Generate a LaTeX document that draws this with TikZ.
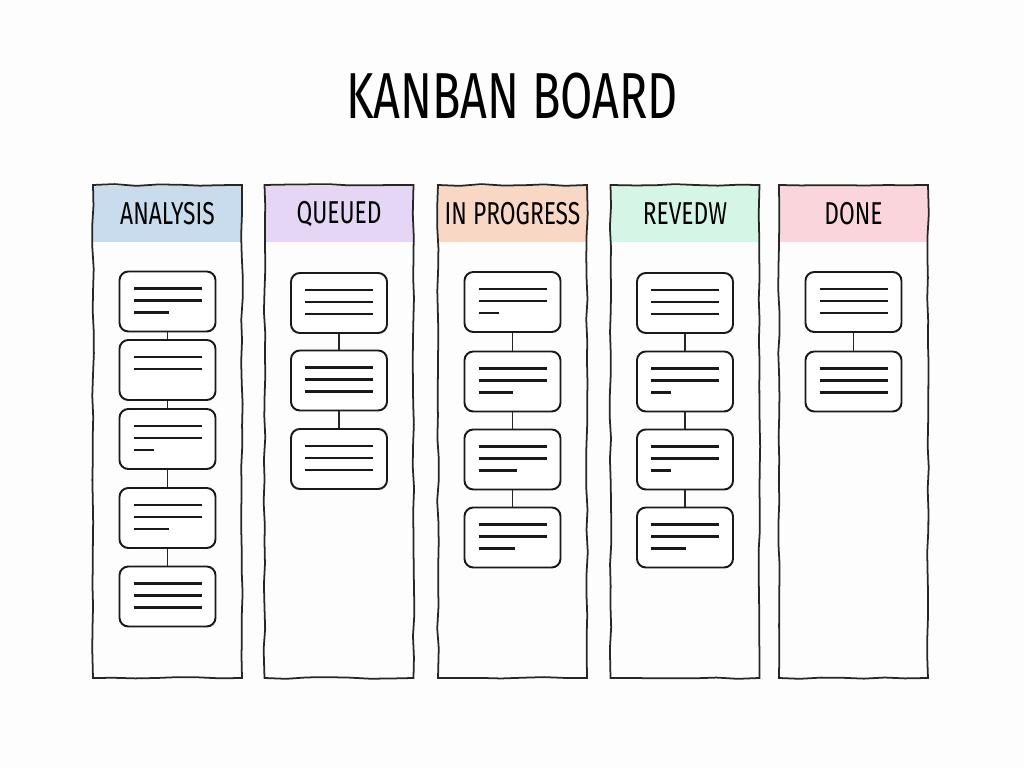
\documentclass[tikz,border=0pt]{standalone}
\usepackage{fontspec}
\setmainfont{Fira Sans}[FakeStretch=0.72]
\usetikzlibrary{decorations.pathmorphing}
\definecolor{boardbg}{HTML}{FDFDFD}
\definecolor{analysisblue}{HTML}{C8DCEE}
\definecolor{queuedlilac}{HTML}{E5D6F6}
\definecolor{progresspeach}{HTML}{F8D8C5}
\definecolor{reviewmint}{HTML}{D5F6E6}
\definecolor{donepink}{HTML}{FAD5DB}
\tikzset{
  sketchy/.style={decorate, decoration={random steps, segment length=6pt, amplitude=0.25pt}},
  lane/.style={draw=black!85, line width=0.5pt, minimum width=1.49cm, minimum height=4.93cm, inner sep=0pt, sketchy},
  lanehead/.style={minimum width=1.49cm, minimum height=0.56cm, inner sep=0pt, anchor=north, font=\fontsize{9}{10}\selectfont},
  card/.style={draw=black!90, line width=0.55pt, rounded corners=2.5pt, minimum width=0.96cm, minimum height=0.6cm, inner sep=0pt, fill=white},
  cardline/.style={line width=0.6pt, black!90},
  link/.style={line width=0.5pt, black!85}
}

\begin{document}
\begin{tikzpicture}
\pgfmathsetseed{7}
\fill[boardbg] (0,0) rectangle (10.24,7.68);
\useasboundingbox (0,0) rectangle (10.24,7.68);
\node[font=\fontsize{18.5}{20}\selectfont] (title) at (5.12,6.72) {KANBAN BOARD};
% lanes with coloured heads
\foreach \c/\x/\name/\shade in {1/1.675/ANALYSIS/analysisblue, 2/3.39/QUEUED/queuedlilac, 3/5.125/IN PROGRESS/progresspeach, 4/6.85/REVEDW/reviewmint, 5/8.535/DONE/donepink} {
  \node[lanehead, fill=\shade] (head\c) at (\x,5.83) {\name};
  \node[lane] (lane\c) at (\x,3.365) {};
}
% cards: lane / index / height / length of last line
\foreach \c/\k/\y/\tail in {1/1/4.665/0.35, 1/2/3.98/0, 1/3/3.29/0.2, 1/4/2.50/0.35, 1/5/1.715/0.68,
    2/1/4.65/0.68, 2/2/3.875/0.68, 2/3/3.09/0.68,
    3/1/4.66/0.2, 3/2/3.865/0.34, 3/3/3.085/0.38, 3/4/2.305/0.36,
    4/1/4.65/0.68, 4/2/3.865/0.2, 4/3/3.085/0.2, 4/4/2.305/0.35,
    5/1/4.66/0.68, 5/2/3.865/0.68} {
  \node[card] (card\c-\k) at (lane\c |- 0,\y) {};
  \draw[cardline] ([xshift=-0.34cm,yshift=0.13cm]card\c-\k.center) -- ++(0.68,0);
  \draw[cardline] ([xshift=-0.34cm,yshift=0.01cm]card\c-\k.center) -- ++(0.68,0);
  \ifdim\tail pt>0pt \draw[cardline] ([xshift=-0.34cm,yshift=-0.11cm]card\c-\k.center) -- ++(\tail,0); \fi
}
% links between cards
\foreach \c/\k/\j in {1/1/2, 1/2/3, 1/3/4, 1/4/5, 2/1/2, 2/2/3, 3/1/2, 3/2/3, 3/3/4, 4/1/2, 4/2/3, 4/3/4, 5/1/2}
  \draw[link] (card\c-\k) -- (card\c-\j);
\end{tikzpicture}
\end{document}
